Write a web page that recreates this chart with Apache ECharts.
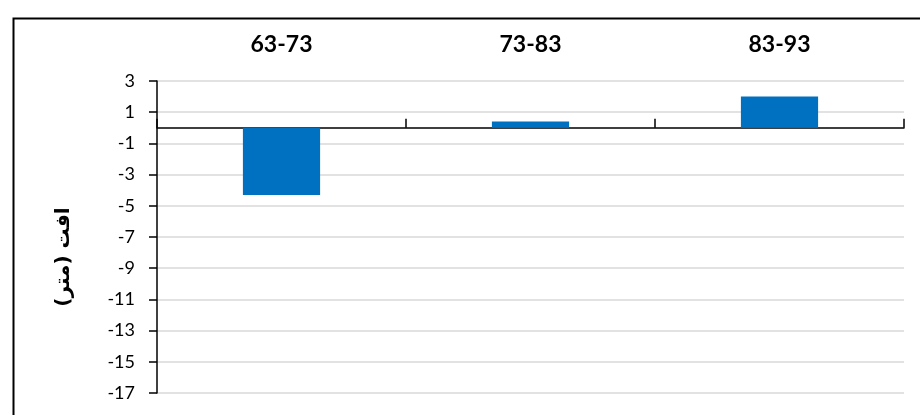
<!DOCTYPE html>
<html>
<head>
<meta charset="utf-8">
<script src="https://cdn.jsdelivr.net/npm/echarts@6/dist/echarts.min.js"></script>
<style>
html,body{margin:0;padding:0;background:#fff;}
#chart{width:920px;height:415px;}
</style>
</head>
<body>
<div id="chart"></div>
<script>
const categories = ['63-73', '73-83', '83-93'];
const values = [-4.3, 0.4, 2.0];
const yAxisTitle = 'افت (متر)';
const yMin = -17, yMax = 3, yInterval = 2;

const chart = echarts.init(document.getElementById('chart'));
const font = 'Lato, "Noto Sans", "DejaVu Sans", sans-serif';
chart.setOption({
  animation: false,
  grid: {left: 157, top: 81, right: 16, bottom: 22},
  xAxis: [
    {
      type: 'category', data: categories, position: 'top',
      axisLine: {show: false}, axisTick: {show: false},
      axisLabel: {margin: 25, fontSize: 23, fontWeight: 'bold', color: '#000', fontFamily: font}
    },
    {
      type: 'category', data: categories, position: 'bottom',
      axisLine: {show: true, onZero: true, onZeroAxisIndex: 0, lineStyle: {color: '#000', width: 1.5}},
      axisTick: {show: true, inside: true, length: 9, lineStyle: {color: '#000', width: 1.5}},
      axisLabel: {show: false}
    }
  ],
  yAxis: {
    type: 'value', min: yMin, max: yMax, interval: yInterval,
    axisLine: {show: true, lineStyle: {color: '#000', width: 1.5}},
    axisTick: {show: true, length: 8, lineStyle: {color: '#000', width: 1.5}},
    axisLabel: {margin: 22, fontSize: 18, color: '#000', fontFamily: font},
    splitLine: {show: true, lineStyle: {color: '#d9d9d9', width: 1.5}}
  },
  series: [{
    type: 'bar', data: values, xAxisIndex: 0, barWidth: '31%',
    itemStyle: {color: '#0070C0'}
  }],
  graphic: [
    {type: 'rect', left: 11, top: 16, shape: {width: 1000, height: 600},
     style: {fill: 'none', stroke: '#000', lineWidth: 2}, silent: true},
    {type: 'text', x: 64, y: 257, rotation: Math.PI / 2,
     style: {text: yAxisTitle, font: 'bold 20px "DejaVu Sans", "Noto Sans", sans-serif', fill: '#000',
             align: 'center', verticalAlign: 'middle'}}
  ]
});
</script>
</body>
</html>
